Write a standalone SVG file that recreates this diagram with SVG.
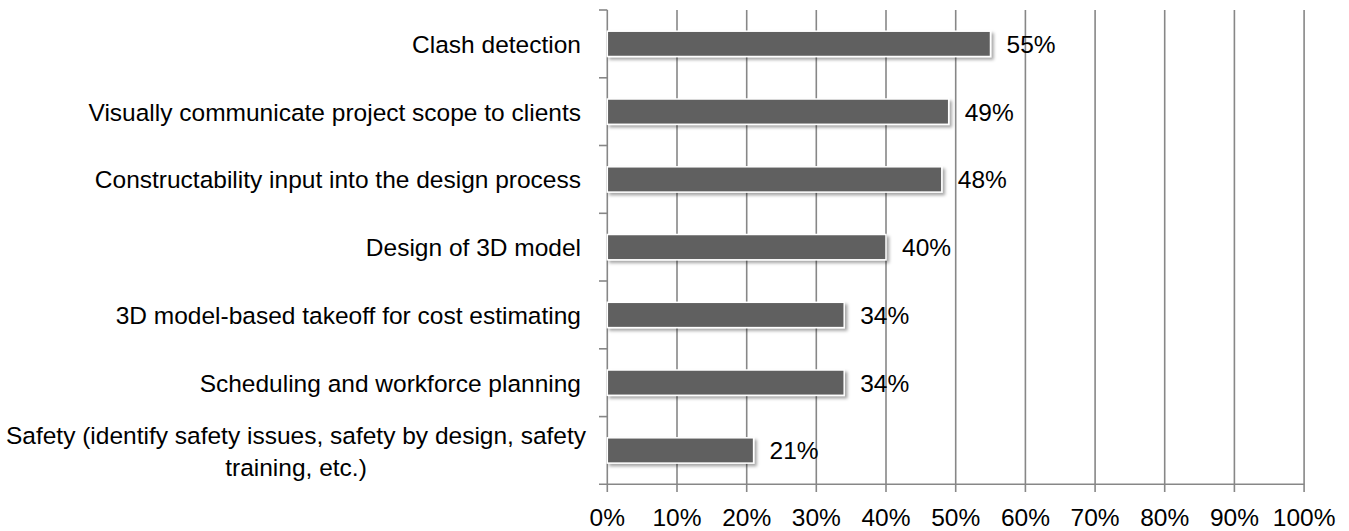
<svg xmlns="http://www.w3.org/2000/svg" width="1349" height="531" viewBox="0 0 1349 531">
  <style>
    .grid { stroke: #878787; stroke-width: 1.6; fill: none; }
    .bar { fill: #606060; stroke: #ffffff; stroke-width: 1.5; filter: url(#shadow); }
    .lbl { font-family: "Liberation Sans", Arial, sans-serif; font-size: 24.5px; fill: #000000; }
    .cat { text-anchor: end; }
    .mid { text-anchor: middle; }
  </style>
  <defs>
    <filter id="shadow" x="-5%" y="-30%" width="110%" height="170%">
      <feDropShadow dx="2.5" dy="2.5" stdDeviation="1.6" flood-color="#000000" flood-opacity="0.35"/>
    </filter>
  </defs>
  <rect width="1349" height="531" fill="#ffffff"/>

  <g id="axes">
    <g class="grid">
      <line x1="677.0" y1="10" x2="677.0" y2="492"/>
      <line x1="746.7" y1="10" x2="746.7" y2="492"/>
      <line x1="816.3" y1="10" x2="816.3" y2="492"/>
      <line x1="886.0" y1="10" x2="886.0" y2="492"/>
      <line x1="955.7" y1="10" x2="955.7" y2="492"/>
      <line x1="1025.4" y1="10" x2="1025.4" y2="492"/>
      <line x1="1095.1" y1="10" x2="1095.1" y2="492"/>
      <line x1="1164.7" y1="10" x2="1164.7" y2="492"/>
      <line x1="1234.4" y1="10" x2="1234.4" y2="492"/>
      <line x1="1304.1" y1="10" x2="1304.1" y2="492"/>
      <line x1="607.3" y1="10" x2="607.3" y2="492"/>
      <line x1="599" y1="484.3" x2="1304.1" y2="484.3"/>
      <line x1="599" y1="10" x2="607.3" y2="10"/>
      <line x1="599" y1="77.8" x2="607.3" y2="77.8"/>
      <line x1="599" y1="145.5" x2="607.3" y2="145.5"/>
      <line x1="599" y1="213.3" x2="607.3" y2="213.3"/>
      <line x1="599" y1="281.0" x2="607.3" y2="281.0"/>
      <line x1="599" y1="348.8" x2="607.3" y2="348.8"/>
      <line x1="599" y1="416.6" x2="607.3" y2="416.6"/>
    </g>
    <g class="lbl mid">
      <text x="607.3" y="526">0%</text>
      <text x="677.0" y="526">10%</text>
      <text x="746.7" y="526">20%</text>
      <text x="816.3" y="526">30%</text>
      <text x="886.0" y="526">40%</text>
      <text x="955.7" y="526">50%</text>
      <text x="1025.4" y="526">60%</text>
      <text x="1095.1" y="526">70%</text>
      <text x="1164.7" y="526">80%</text>
      <text x="1234.4" y="526">90%</text>
      <text x="1304.1" y="526">100%</text>
    </g>
  </g>

  <g id="connectors"></g>

  <g id="cat-clash">
    <rect class="bar" x="607.3" y="31.2" width="383.2" height="25.3"/>
    <text class="lbl cat" x="581" y="52.9">Clash detection</text>
    <text class="lbl" x="1006.5" y="52.9">55%</text>
  </g>
  <g id="cat-visually">
    <rect class="bar" x="607.3" y="99.0" width="341.4" height="25.3"/>
    <text class="lbl cat" x="581" y="120.6">Visually communicate project scope to clients</text>
    <text class="lbl" x="964.7" y="120.6">49%</text>
  </g>
  <g id="cat-constructability">
    <rect class="bar" x="607.3" y="166.8" width="334.5" height="25.3"/>
    <text class="lbl cat" x="581" y="188.4">Constructability input into the design process</text>
    <text class="lbl" x="957.8" y="188.4">48%</text>
  </g>
  <g id="cat-design">
    <rect class="bar" x="607.3" y="234.5" width="278.7" height="25.3"/>
    <text class="lbl cat" x="581" y="256.2">Design of 3D model</text>
    <text class="lbl" x="902" y="256.2">40%</text>
  </g>
  <g id="cat-takeoff">
    <rect class="bar" x="607.3" y="302.3" width="236.9" height="25.3"/>
    <text class="lbl cat" x="581" y="323.9">3D model-based takeoff for cost estimating</text>
    <text class="lbl" x="860.2" y="323.9">34%</text>
  </g>
  <g id="cat-scheduling">
    <rect class="bar" x="607.3" y="370.0" width="236.9" height="25.3"/>
    <text class="lbl cat" x="581" y="391.7">Scheduling and workforce planning</text>
    <text class="lbl" x="860.2" y="391.7">34%</text>
  </g>
  <g id="cat-safety">
    <rect class="bar" x="607.3" y="437.8" width="146.3" height="25.3"/>
    <text class="lbl mid" x="296" y="443.6">Safety (identify safety issues, safety by design, safety</text>
    <text class="lbl mid" x="296" y="476">training, etc.)</text>
    <text class="lbl" x="769.6" y="459.4">21%</text>
  </g>
</svg>
